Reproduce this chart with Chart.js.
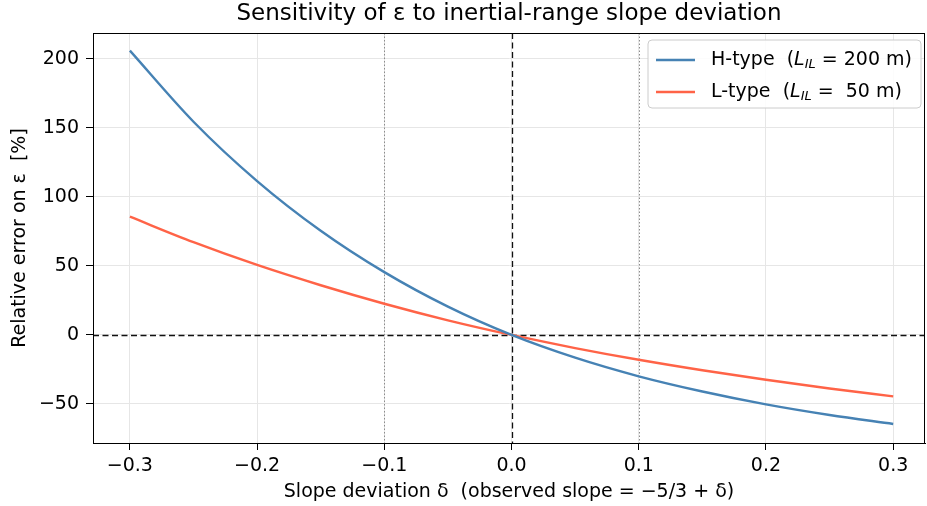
<!DOCTYPE html>
<html>
<head>
<meta charset="utf-8">
<script src="https://cdn.jsdelivr.net/npm/chart.js@4.4.1/dist/chart.umd.min.js"></script>
<style>
  html, body { margin: 0; padding: 0; background: #fff; }
  #wrap { width: 927px; height: 506px; }
</style>
</head>
<body>
<div id="wrap"><canvas id="c" width="927" height="506"></canvas></div>
<script>
// ---- data ----
const deltas = [-0.3, -0.25, -0.2, -0.15, -0.1, -0.05, 0, 0.05, 0.1, 0.15, 0.2, 0.25, 0.3];
const hType  = [206, 154.5, 111.5, 75.5, 45.5, 20.5, 0, -16.5, -30, -41, -50.3, -58, -64.5];
const lType  = [85.7, 67.2, 50.7, 36, 22.6, 10.6, 0, -9.5, -18, -25.6, -32.5, -38.8, -44.5];
const xTicks = [-0.3, -0.2, -0.1, 0.0, 0.1, 0.2, 0.3];
const yTicks = [-50, 0, 50, 100, 150, 200];
const dashedZeroX = [0];
const dashedZeroY = [0];
const dottedX = [-0.1, 0.1];
const seriesNames = ['H-type', 'L-type'];
const seriesL = ['200', ' 50'];

const FONT = "'DejaVu Sans', sans-serif";
Chart.defaults.font.family = FONT;
Chart.defaults.color = '#000';

const fmtMinus = (s) => s.replace('-', '\u2212');

const refLines = {
  id: 'refLines',
  beforeDatasetsDraw(chart) {
    const {ctx, chartArea: a, scales: {x, y}} = chart;
    ctx.save();
    ctx.beginPath(); ctx.rect(a.left, a.top, a.right - a.left, a.bottom - a.top); ctx.clip();
    ctx.strokeStyle = '#8c8c8c'; ctx.lineWidth = 1; ctx.setLineDash([1.5, 2]);
    dottedX.forEach(v => {
      const px = Math.round(x.getPixelForValue(v)) + 0.5;
      ctx.beginPath(); ctx.moveTo(px, a.top); ctx.lineTo(px, a.bottom); ctx.stroke();
    });
    ctx.strokeStyle = '#111'; ctx.lineWidth = 1.3; ctx.setLineDash([6, 3.5]);
    dashedZeroX.forEach(v => {
      const px = Math.round(x.getPixelForValue(v)) + 0.5;
      ctx.beginPath(); ctx.moveTo(px, a.top); ctx.lineTo(px, a.bottom); ctx.stroke();
    });
    dashedZeroY.forEach(v => {
      const py = Math.round(y.getPixelForValue(v)) + 0.5;
      ctx.beginPath(); ctx.moveTo(a.left, py); ctx.lineTo(a.right, py); ctx.stroke();
    });
    ctx.restore();
  }
};

const frameAndLegend = {
  id: 'frameAndLegend',
  afterDraw(chart) {
    const {ctx, chartArea: a} = chart;
    ctx.save();
    ctx.strokeStyle = '#000'; ctx.lineWidth = 1; ctx.setLineDash([]);
    ctx.strokeRect(Math.round(a.left) + 0.5, Math.round(a.top) + 0.5,
                   Math.round(a.right - a.left) - 1, Math.round(a.bottom - a.top));
    const bx = 648, by = 40, bw = 273, bh = 68, r = 4;
    ctx.fillStyle = 'rgba(255,255,255,0.85)';
    ctx.strokeStyle = '#cccccc';
    ctx.beginPath();
    ctx.moveTo(bx + r, by); ctx.lineTo(bx + bw - r, by); ctx.quadraticCurveTo(bx + bw, by, bx + bw, by + r);
    ctx.lineTo(bx + bw, by + bh - r); ctx.quadraticCurveTo(bx + bw, by + bh, bx + bw - r, by + bh);
    ctx.lineTo(bx + r, by + bh); ctx.quadraticCurveTo(bx, by + bh, bx, by + bh - r);
    ctx.lineTo(bx, by + r); ctx.quadraticCurveTo(bx, by, bx + r, by);
    ctx.closePath(); ctx.fill(); ctx.stroke();
    chart.data.datasets.forEach((ds, i) => {
      const yy = by + 20 + i * 32;
      ctx.strokeStyle = ds.borderColor; ctx.lineWidth = 2.4;
      ctx.beginPath(); ctx.moveTo(656, yy); ctx.lineTo(695, yy); ctx.stroke();
      ctx.fillStyle = '#000';
      ctx.textBaseline = 'middle'; ctx.textAlign = 'left';
      let tx = 711;
      const base = "19px " + FONT, ital = "italic 19px " + FONT, sub = "italic 13px " + FONT;
      ctx.font = base; const p1 = seriesNames[i] + '  ('; ctx.fillText(p1, tx, yy); tx += ctx.measureText(p1).width;
      ctx.font = ital; ctx.fillText('L', tx, yy); tx += ctx.measureText('L').width;
      ctx.font = sub; ctx.fillText('IL', tx, yy + 5); tx += ctx.measureText('IL').width;
      ctx.font = base; ctx.fillText(' = ' + seriesL[i] + ' m)', tx, yy);
    });
    ctx.restore();
  }
};

new Chart(document.getElementById('c'), {
  type: 'line',
  data: {
    datasets: [
      { label: seriesNames[0], data: deltas.map((d, i) => ({x: d, y: hType[i]})),
        borderColor: '#4682b4', borderWidth: 2.4, pointRadius: 0, cubicInterpolationMode: 'monotone', fill: false },
      { label: seriesNames[1], data: deltas.map((d, i) => ({x: d, y: lType[i]})),
        borderColor: '#ff6347', borderWidth: 2.4, pointRadius: 0, cubicInterpolationMode: 'monotone', fill: false }
    ]
  },
  options: {
    responsive: false,
    animation: false,
    events: [],
    layout: { padding: { left: 0, right: 2, top: 0, bottom: 0 } },
    plugins: {
      legend: { display: false },
      tooltip: { enabled: false },
      title: {
        display: true, fullSize: false,
        text: 'Sensitivity of \u03B5 to inertial-range slope deviation',
        font: { size: 23, weight: 'normal', family: FONT },
        color: '#000',
        padding: { top: 0, bottom: 5.4 }
      }
    },
    scales: {
      x: {
        type: 'linear', min: -0.329, max: 0.325,
        afterBuildTicks: (s) => { s.ticks = xTicks.map(v => ({value: v})); },
        afterFit: (s) => { s.height = 63; },
        ticks: { font: { size: 19 }, padding: 5, maxRotation: 0,
                 callback: (v) => fmtMinus(Number(v).toFixed(1)) },
        grid: { color: '#e6e6e6', lineWidth: 1, tickLength: 7, tickColor: '#000', drawTicks: true },
        border: { display: true, color: '#000', width: 1 },
        title: { display: true, text: 'Slope deviation \u03B4  (observed slope = \u22125/3 + \u03B4)',
                 font: { size: 19 }, padding: { top: 0, bottom: 2.6 } }
      },
      y: {
        type: 'linear', min: -78.3, max: 218.8,
        afterBuildTicks: (s) => { s.ticks = yTicks.map(v => ({value: v})); },
        afterFit: (s) => { s.width = 93; },
        ticks: { font: { size: 19 }, padding: 7,
                 callback: (v) => fmtMinus(String(v)) },
        grid: { color: '#e6e6e6', lineWidth: 1, tickLength: 7, tickColor: '#000', drawTicks: true },
        border: { display: true, color: '#000', width: 1 },
        title: { display: true, text: 'Relative error on \u03B5  [%]',
                 font: { size: 19 }, padding: { top: 8.6, bottom: 0 } }
      }
    }
  },
  plugins: [refLines, frameAndLegend]
});
</script>
</body>
</html>
